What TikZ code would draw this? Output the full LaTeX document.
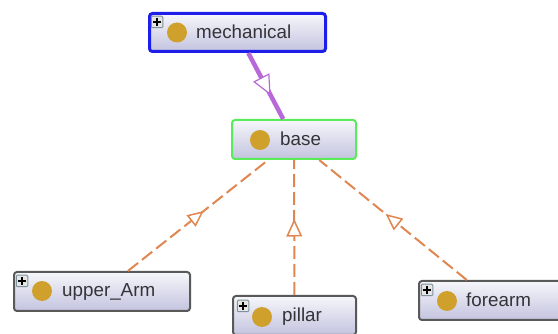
\documentclass[tikz,border=0pt]{standalone}
\usepackage{fontspec}
\setmainfont{Liberation Sans}
\usetikzlibrary{decorations.markings}
\definecolor{boxtop}{HTML}{F6F6FB}
\definecolor{boxbot}{HTML}{C3C3DF}
\definecolor{gold}{HTML}{CFA02B}
\definecolor{purp}{HTML}{B868D8}
\definecolor{orng}{HTML}{E08650}
\definecolor{txt}{HTML}{333338}
\tikzset{
  x=1pt,y=-1pt,
  classbox/.style={rectangle,rounded corners=3pt,top color=boxtop,bottom color=boxbot,inner sep=0pt,minimum height=39pt,draw=black!65,line width=2pt},
  dot/.style={circle,fill=gold,minimum size=20pt,inner sep=0pt},
  lbl/.style={anchor=base west,inner sep=0pt,text=txt,font=\fontsize{18.8}{20}\selectfont},
  plusbox/.style={rectangle,draw=black!30!cyan!30!gray,fill=black!10,line width=1pt,minimum size=11.5pt,inner sep=0pt,rounded corners=1pt,
    path picture={\draw[black,line width=1.4pt] (path picture bounding box.center) ++(-3.8pt,0)--++(7.6pt,0) (path picture bounding box.center) ++(0,-3.8pt)--++(0,7.6pt);}},
  tri/.style n args={4}{postaction={decorate},decoration={markings,mark=at position #1 with {\draw[#4,fill=white,solid,line width=#3] (-#2,-0.46*#2)--(0,0)--(-#2,0.46*#2)--cycle;}}},
  subedge/.style={draw=orng,line width=2pt,dash pattern=on 13pt off 5pt},
}
\begin{document}
\begin{tikzpicture}
\useasboundingbox[clip] (0,0) rectangle (558,334);
\node[classbox,draw={rgb,255:red,30;green,30;blue,235},line width=3pt,minimum width=176pt,minimum height=38pt] (mech) at (237.5,32.5) {};
\node[classbox,draw={rgb,255:red,90;green,235;blue,90},minimum width=124pt] (base) at (294,139.5) {};
\node[classbox,minimum width=176pt] (upper) at (102,291.5) {};
\node[classbox,minimum width=123pt] (pillar) at (294.5,315.5) {};
\node[classbox,minimum width=146pt] (fore) at (492,300.5) {};
\node[plusbox] (pm) at (157,22) {};
\node[plusbox] (pu) at (22,281) {};
\node[plusbox] (pp) at (243,306) {};
\node[plusbox] (pf) at (427,290) {};
\node[dot] (dm) at (177,32.5) {};
\node[dot] (db) at (260,140) {};
\node[dot] (du) at (42,291) {};
\node[dot] (dp) at (262,317) {};
\node[dot] (df) at (447,301) {};
\node[lbl] (lm) at (196,38.5) {mechanical};
\node[lbl] (lb) at (280,146) {base};
\node[lbl] (lu) at (62,297) {upper\_Arm};
\node[lbl] (lp) at (282,322) {pillar};
\node[lbl] (lf) at (466,307) {forearm};
\draw[draw=purp,line width=4.5pt,tri={0.62}{18pt}{1.2pt}{purp}] (mech) -- (base);
\draw[subedge,tri={0.53}{13.5pt}{1.5pt}{orng}] (upper) -- (base);
\draw[subedge,tri={0.55}{15pt}{1.5pt}{orng}] (pillar) -- (base);
\draw[subedge,tri={0.54}{14pt}{1.5pt}{orng}] (fore) -- (base);
\end{tikzpicture}
\end{document}
